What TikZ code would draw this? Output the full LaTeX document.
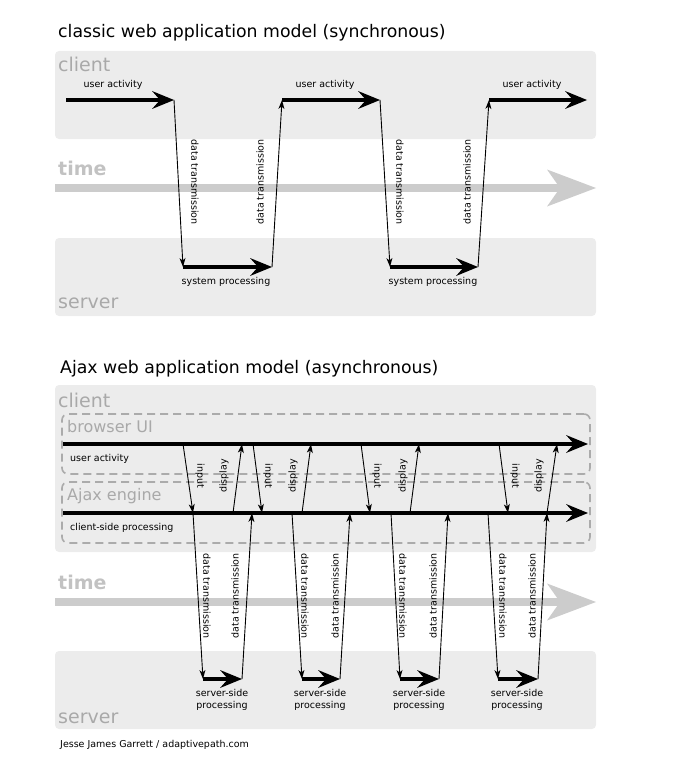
\documentclass[tikz,border=0pt]{standalone}
\usepackage{fontspec}
\setmainfont{DejaVu Sans}
\usetikzlibrary{arrows.meta}
\definecolor{lanegray}{HTML}{ECECEC}
\definecolor{tiergray}{HTML}{A9A9A9}
\definecolor{timegray}{HTML}{CCCCCC}
\definecolor{timetext}{HTML}{C2C2C2}
\definecolor{dashgray}{HTML}{ABABAB}
\begin{document}
\begin{tikzpicture}[x=1pt,y=-1pt,
  lane/.style={fill=lanegray,rounded corners=4pt,inner sep=0pt,outer sep=0pt},
  layer/.style={draw=dashgray,line width=1.6pt,dash pattern=on 8pt off 5pt,rounded corners=6pt,inner sep=0pt,outer sep=0pt},
  title/.style={anchor=base west,inner sep=0pt,font=\fontsize{17.3}{20}\selectfont},
  tier/.style={anchor=base west,inner sep=0pt,text=tiergray,font=\fontsize{19}{22}\selectfont},
  clock/.style={anchor=base west,inner sep=0pt,text=timetext,font=\fontsize{19}{22}\selectfont\bfseries},
  sublayer/.style={anchor=base west,inner sep=0pt,text=tiergray,font=\fontsize{16}{18}\selectfont},
  lbl/.style={inner sep=0pt,font=\fontsize{9.5}{11.5}\selectfont},
  flow/.style={line width=3.5pt,-{Stealth[length=22pt,width=18pt,inset=8pt,line width=0pt]}},
  msg/.style={line width=0.9pt,-{Stealth[length=9pt,width=6pt,inset=2.5pt,line width=0pt]}},
  timebar/.style={draw=timegray,line width=8pt,-{Stealth[length=49pt,width=37pt,inset=13pt,line width=0pt]}}
]
\useasboundingbox (0,0) rectangle (696,757);

% classic model
\node(t1) at (58,38) [title]{classic web application model (synchronous)};
\node(cli1) at (325.5,95) [lane, minimum width=541pt, minimum height=88pt]{};
\node(srv1) at (325.5,277) [lane, minimum width=541pt, minimum height=78pt]{};
\node(cl1) at (58,72) [tier]{client};
\node(tm1) at (58,175) [clock]{time};
\node(sv1) at (58,308) [tier]{server};
\coordinate(tb0) at (55,188);
\coordinate(tb1) at (596,188);
\draw[timebar] (tb0) -- (tb1);

\coordinate(u0) at (66,100);
\coordinate(u1) at (174,100);
\coordinate(s1) at (183,267);
\coordinate(s2) at (272,267);
\coordinate(u2) at (282,100);
\coordinate(u3) at (380,100);
\coordinate(s3) at (390,267);
\coordinate(s4) at (478,267);
\coordinate(u4) at (489,100);
\coordinate(u5) at (587,100);

\draw[flow] (u0) -- (u1);
\draw[msg] (u1) -- (s1);
\draw[flow] (s1) -- (s2);
\draw[msg] (s2) -- (u2);
\draw[flow] (u2) -- (u3);
\draw[msg] (u3) -- (s3);
\draw[flow] (s3) -- (s4);
\draw[msg] (s4) -- (u4);
\draw[flow] (u4) -- (u5);

\node(ul1) at (113,85) [lbl]{user activity};
\node(ul2) at (325,85) [lbl]{user activity};
\node(ul3) at (532,85) [lbl]{user activity};
\node(sp1) at (226,282) [lbl]{system processing};
\node(sp2) at (433,282) [lbl]{system processing};
\node(dd1) at (195,182) [lbl,rotate=-90]{data transmission};
\node(du1) at (260,182) [lbl,rotate=90]{data transmission};
\node(dd2) at (400,182) [lbl,rotate=-90]{data transmission};
\node(du2) at (467,182) [lbl,rotate=90]{data transmission};

% ajax model
\node(t2) at (60,373) [title]{Ajax web application model (asynchronous)};
\node(cli2) at (325.5,468.5) [lane, minimum width=541pt, minimum height=167pt]{};
\node(srv2) at (325.5,690) [lane, minimum width=541pt, minimum height=78pt]{};
\node(bui) at (326,444) [layer, minimum width=528pt, minimum height=60pt]{};
\node(eng) at (326,512.5) [layer, minimum width=528pt, minimum height=61pt]{};
\node(cl2) at (58,407) [tier]{client};
\node(bu) at (67,432) [sublayer]{browser UI};
\node(ae) at (67,500) [sublayer]{Ajax engine};
\node(tm2) at (58,589) [clock]{time};
\node(sv2) at (58,723) [tier]{server};
\coordinate(tb2) at (55,602);
\coordinate(tb3) at (596,602);
\draw[timebar] (tb2) -- (tb3);

\coordinate(b0) at (63,444);
\coordinate(b9) at (588,444);
\coordinate(e0) at (63,513);
\coordinate(e9) at (588,513);
\coordinate(i1) at (183,444); \coordinate(j1) at (193,513); \coordinate(d1) at (233,513); \coordinate(c1) at (242,444);
\coordinate(i2) at (253,444); \coordinate(j2) at (262,513); \coordinate(d2) at (302,513); \coordinate(c2) at (311,444);
\coordinate(i3) at (361,444); \coordinate(j3) at (370,513); \coordinate(d3) at (410,513); \coordinate(c3) at (419,444);
\coordinate(i4) at (499,444); \coordinate(j4) at (508,513); \coordinate(d4) at (547,513); \coordinate(c4) at (557,444);
\coordinate(a1) at (193,513); \coordinate(p1) at (203,679); \coordinate(q1) at (242,679); \coordinate(r1) at (252,513);
\coordinate(a2) at (292,513); \coordinate(p2) at (302,679); \coordinate(q2) at (340,679); \coordinate(r2) at (350,513);
\coordinate(a3) at (391,513); \coordinate(p3) at (400,679); \coordinate(q3) at (439,679); \coordinate(r3) at (448,513);
\coordinate(a4) at (488,513); \coordinate(p4) at (498,679); \coordinate(q4) at (538,679); \coordinate(r4) at (547,513);

\draw[flow] (b0) -- (b9);
\draw[flow] (e0) -- (e9);

\draw[msg] (i1) -- (j1);
\draw[msg] (i2) -- (j2);
\draw[msg] (i3) -- (j3);
\draw[msg] (i4) -- (j4);
\draw[msg] (d1) -- (c1);
\draw[msg] (d2) -- (c2);
\draw[msg] (d3) -- (c3);
\draw[msg] (d4) -- (c4);

\draw[msg] (a1) -- (p1);
\draw[msg] (a2) -- (p2);
\draw[msg] (a3) -- (p3);
\draw[msg] (a4) -- (p4);
\draw[flow] (p1) -- (q1);
\draw[flow] (p2) -- (q2);
\draw[flow] (p3) -- (q3);
\draw[flow] (p4) -- (q4);
\draw[msg] (q1) -- (r1);
\draw[msg] (q2) -- (r2);
\draw[msg] (q3) -- (r3);
\draw[msg] (q4) -- (r4);

\node(ua) at (70,459) [lbl,anchor=west]{user activity};
\node(cp) at (70,528) [lbl,anchor=west]{client-side processing};
\node(in1) at (200,476) [lbl,rotate=-90]{input};
\node(in2) at (268,476) [lbl,rotate=-90]{input};
\node(in3) at (377,476) [lbl,rotate=-90]{input};
\node(in4) at (515,476) [lbl,rotate=-90]{input};
\node(ds1) at (224,476) [lbl,rotate=90]{display};
\node(ds2) at (293,476) [lbl,rotate=90]{display};
\node(ds3) at (403,476) [lbl,rotate=90]{display};
\node(ds4) at (539,476) [lbl,rotate=90]{display};
\node(dn1) at (207,596) [lbl,rotate=-90]{data transmission};
\node(dn2) at (305,596) [lbl,rotate=-90]{data transmission};
\node(dn3) at (403,596) [lbl,rotate=-90]{data transmission};
\node(dn4) at (503,596) [lbl,rotate=-90]{data transmission};
\node(up1) at (235,596) [lbl,rotate=90]{data transmission};
\node(up2) at (335,596) [lbl,rotate=90]{data transmission};
\node(up3) at (433,596) [lbl,rotate=90]{data transmission};
\node(up4) at (532,596) [lbl,rotate=90]{data transmission};
\node(ss1) at (222,700) [lbl,align=center]{server-side\\processing};
\node(ss2) at (320,700) [lbl,align=center]{server-side\\processing};
\node(ss3) at (419,700) [lbl,align=center]{server-side\\processing};
\node(ss4) at (517,700) [lbl,align=center]{server-side\\processing};

\node(credit) at (60,747) [lbl,anchor=base west]{Jesse James Garrett / adaptivepath.com};

\end{tikzpicture}
\end{document}
